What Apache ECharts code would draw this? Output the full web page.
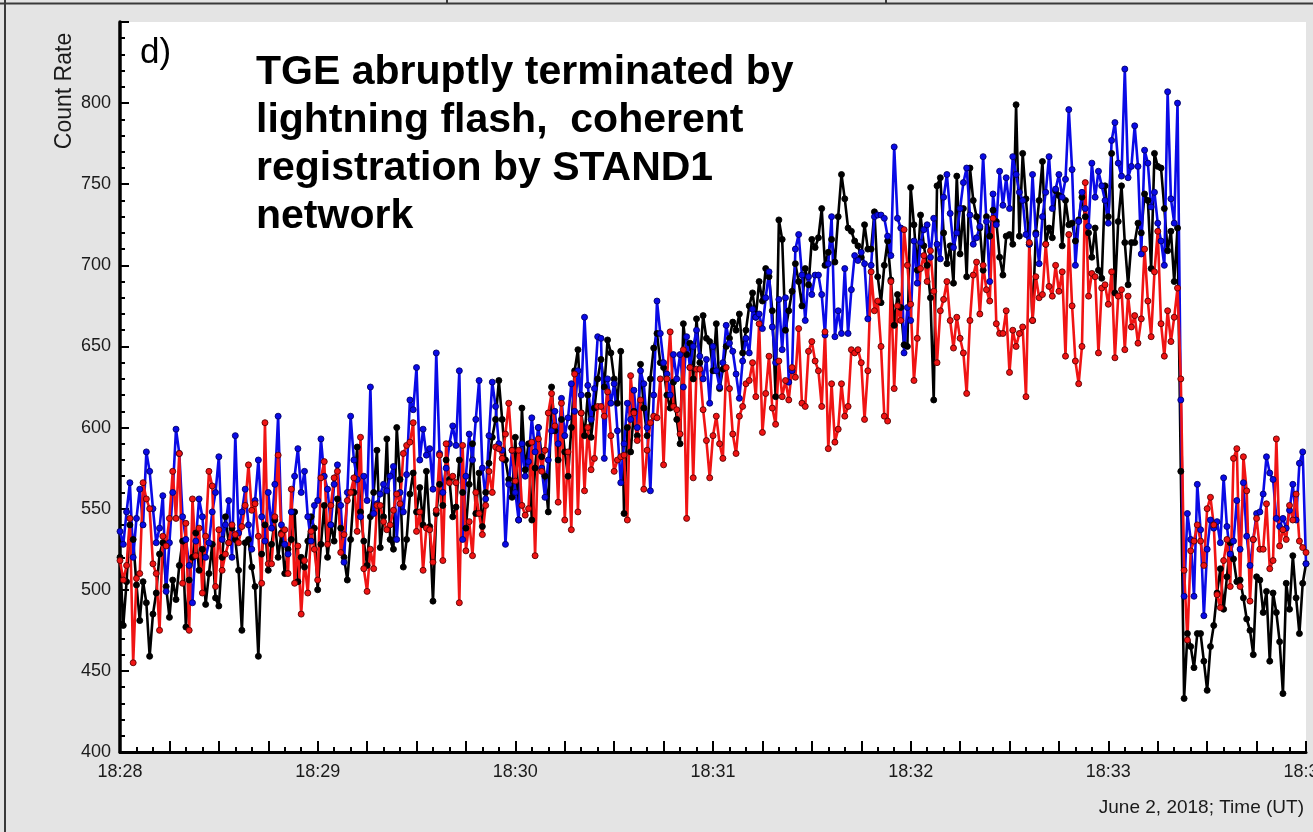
<!DOCTYPE html>
<html>
<head>
<meta charset="utf-8">
<script src="https://cdn.jsdelivr.net/npm/echarts@6.0.0/dist/echarts.min.js"></script>
<style>
  html, body { margin: 0; padding: 0; background: #e4e4e4; }
  #chart { width: 1313px; height: 832px; }
</style>
</head>
<body>
<div id="chart"></div>
<script>
// One-second count rates of three detectors, 18:28:00 - 18:34:00 UT, June 2, 2018
const startMinute = 28;          // 18:28
const axisSeconds = [0, 360];    // time axis span in seconds

const blackRate = [
  520, 478, 505, 540, 531, 503, 481, 505, 492, 459,
  485, 498, 522, 529, 502, 483, 506, 494, 515, 530,
  477, 506, 520, 535, 512, 525, 491, 510, 528, 495,
  490, 520, 545, 529, 538, 531, 512, 475, 529, 531,
  514, 502, 459, 522, 540, 512, 528, 543, 520, 535,
  510, 525, 531, 548, 505, 520, 514, 530, 545, 538,
  500, 528, 552, 520, 540, 530, 556, 538, 520, 506,
  531, 560, 588, 548, 530, 515, 545, 560, 586, 526,
  545, 593, 531, 525, 600, 568, 514, 531, 559, 572,
  548, 563, 540, 573, 539, 493, 547, 565, 552, 580,
  568, 545, 551, 580, 560, 538, 565, 590, 547, 572,
  539, 560, 578, 594, 605, 629, 605, 580, 568, 557,
  594, 543, 612, 574, 590, 543, 575, 600, 582, 570,
  548, 625, 598, 580, 605, 585, 570, 600, 635, 648,
  609, 595, 620, 594, 612, 630, 642, 625, 654, 646,
  630, 615, 647, 547, 600, 585, 610, 595, 639, 612,
  595, 630, 649, 658, 640, 637, 620, 612, 628, 605,
  590, 664, 645, 652, 630, 667, 640, 669, 655, 653,
  635, 664, 624, 636, 650, 655, 665, 660, 670, 646,
  660, 675, 683, 668, 690, 678, 698, 693, 672, 619,
  728, 716, 660, 672, 684, 701, 690, 675, 698, 688,
  716, 711, 717, 735, 700, 708, 716, 702, 730, 756,
  741, 723, 721, 715, 712, 705, 725, 710, 710, 733,
  693, 677, 700, 715, 691, 663, 682, 674, 651, 650,
  748, 725, 697, 731, 712, 700, 680, 617, 749, 754,
  720, 701, 712, 689, 755, 707, 735, 693, 760, 740,
  730, 723, 697, 730, 718, 734, 727, 705, 694, 718,
  719, 713, 799, 718, 769, 741, 713, 666, 720, 740,
  764, 713, 723, 717, 746, 743, 712, 740, 725, 726,
  715, 728, 742, 730, 720, 705, 723, 697, 692, 749,
  730, 769, 683, 727, 749, 714, 688, 714, 714, 726,
  720, 744, 740, 698, 769, 761, 760, 735, 709, 721,
  690, 723, 573, 433, 473, 465, 452, 473, 473, 456,
  438, 465, 478, 498, 513, 488, 508, 529, 519, 505,
  506, 495, 482, 475, 460, 508, 506, 486, 499, 456,
  498, 486, 468, 436, 504, 488, 521, 495, 473, 504, 516
];

const blueRate = [
  536, 528, 548, 566, 520, 544, 562, 540, 585, 573,
  550, 529, 538, 558, 499, 529, 560, 599, 584, 545,
  531, 515, 492, 530, 556, 545, 520, 529, 548, 560,
  582, 531, 540, 555, 520, 595, 535, 548, 562, 540,
  525, 555, 580, 545, 530, 560, 538, 565, 607, 540,
  528, 522, 548, 570, 587, 560, 573, 545, 530, 552,
  555, 593, 570, 562, 540, 565, 577, 552, 517, 560,
  607, 580, 568, 545, 570, 555, 625, 547, 553, 559,
  565, 561, 570, 576, 531, 560, 548, 571, 617, 611,
  637, 580, 599, 583, 587, 562, 646, 584, 560, 575,
  590, 601, 589, 635, 531, 570, 596, 580, 605, 629,
  575, 556, 595, 628, 613, 590, 586, 528, 565, 586,
  560, 543, 590, 570, 579, 606, 585, 600, 575, 557,
  580, 598, 610, 590, 618, 595, 606, 627, 610, 635,
  620, 668, 626, 605, 624, 656, 655, 581, 630, 615,
  627, 598, 566, 590, 615, 605, 623, 600, 635, 627,
  600, 561, 620, 678, 658, 640, 633, 620, 645, 630,
  645, 625, 656, 637, 650, 660, 644, 630, 642, 615,
  650, 635, 625, 640, 663, 652, 647, 633, 618, 641,
  655, 646, 673, 668, 670, 661, 680, 696, 662, 640,
  679, 648, 680, 628, 635, 710, 719, 694, 666, 693,
  682, 694, 694, 682, 657, 701, 730, 656, 672, 658,
  698, 658, 685, 706, 703, 708, 701, 667, 700, 730,
  731, 731, 729, 718, 706, 773, 729, 723, 646, 674,
  666, 715, 689, 714, 722, 725, 705, 729, 713, 704,
  742, 756, 732, 711, 720, 735, 751, 760, 731, 713,
  717, 724, 767, 727, 690, 744, 725, 758, 737, 754,
  735, 767, 756, 745, 740, 719, 713, 756, 719, 701,
  730, 745, 767, 735, 747, 756, 742, 753, 796, 759,
  700, 727, 745, 735, 724, 763, 742, 758, 749, 740,
  726, 777, 788, 763, 755, 821, 754, 761, 786, 761,
  707, 771, 763, 736, 745, 726, 715, 700, 807, 741,
  726, 800, 617, 496, 547, 531, 496, 565, 537, 484,
  525, 543, 538, 542, 529, 569, 539, 522, 530, 555,
  525, 566, 533, 515, 531, 547, 548, 559, 582, 572,
  568, 544, 539, 544, 538, 549, 565, 543, 578, 585, 516
];

const redRate = [
  518, 506, 515, 544, 455, 507, 510, 566, 556, 550,
  516, 510, 475, 533, 527, 544, 573, 544, 584, 504,
  541, 475, 556, 521, 538, 498, 533, 573, 564, 502,
  537, 512, 522, 529, 540, 534, 529, 539, 552, 577,
  549, 553, 533, 504, 603, 516, 516, 545, 583, 534,
  537, 510, 562, 504, 527, 485, 518, 498, 536, 525,
  506, 569, 579, 528, 552, 569, 573, 523, 534, 555,
  560, 569, 536, 594, 513, 499, 525, 513, 552, 552,
  542, 537, 540, 549, 559, 553, 584, 589, 591, 603,
  536, 548, 512, 538, 537, 517, 549, 583, 518, 590,
  566, 570, 566, 492, 589, 524, 542, 521, 560, 547,
  534, 552, 573, 560, 588, 587, 581, 596, 615, 586,
  567, 586, 552, 546, 550, 591, 521, 593, 573, 586,
  609, 621, 601, 554, 615, 543, 585, 537, 633, 548,
  609, 561, 600, 574, 581, 613, 613, 607, 622, 595,
  573, 580, 582, 583, 543, 632, 609, 592, 617, 562,
  586, 603, 607, 606, 630, 577, 630, 659, 613, 611,
  596, 648, 544, 637, 569, 636, 636, 611, 592, 569,
  595, 607, 590, 581, 637, 624, 596, 584, 607, 613,
  627, 629, 640, 619, 664, 597, 621, 644, 612, 602,
  641, 619, 629, 617, 637, 631, 661, 615, 613, 647,
  653, 641, 635, 613, 659, 587, 627, 591, 599, 627,
  607, 613, 648, 646, 648, 640, 605, 635, 696, 672,
  678, 650, 607, 604, 690, 624, 675, 666, 722, 700,
  676, 629, 655, 698, 706, 690, 709, 684, 640, 672,
  679, 690, 666, 649, 668, 655, 646, 621, 666, 694,
  702, 670, 700, 685, 678, 729, 664, 658, 658, 672,
  634, 660, 650, 658, 662, 619, 714, 666, 693, 680,
  682, 713, 687, 681, 700, 684, 696, 644, 719, 675,
  641, 627, 650, 751, 681, 695, 693, 646, 686, 688,
  676, 696, 643, 681, 685, 648, 681, 662, 669, 652,
  667, 710, 678, 656, 696, 721, 664, 644, 672, 653,
  668, 686, 630, 512, 469, 524, 530, 540, 530, 515,
  550, 557, 540, 497, 489, 518, 531, 502, 581, 587,
  502, 582, 561, 493, 531, 544, 525, 525, 553, 513,
  518, 593, 527, 537, 531, 552, 543, 559, 530, 526, 523
];

const yRange = [400, 850];
const yStep = 50;
const xStep = 15;   // major tick every 15 s, label every minute

const fontFamily = '"Liberation Sans", Arial, Helvetica, sans-serif';

function toPoints(values) {
  return values.map((v, i) => [axisSeconds[0] + i, v]);
}

function rateSeries(name, values, color, edge) {
  return {
    name: name,
    type: 'line',
    data: toPoints(values),
    symbol: 'circle',
    symbolSize: 6,
    showSymbol: true,
    clip: true,
    lineStyle: { color: color, width: 2.6 },
    itemStyle: { color: color, borderColor: edge, borderWidth: 0.9 },
    emphasis: { disabled: true },
    silent: true,
    animation: false
  };
}

const chart = echarts.init(document.getElementById('chart'), null, { renderer: 'canvas' });

chart.setOption({
  backgroundColor: '#e4e4e4',
  animation: false,
  grid: {
    left: 120, right: 7, top: 22, bottom: 80,
    containLabel: false,
    outerBoundsMode: 'none',
    show: true, backgroundColor: '#ffffff', borderWidth: 0
  },
  xAxis: {
    type: 'value',
    min: axisSeconds[0], max: axisSeconds[1], interval: xStep,
    axisLine: { show: true, onZero: false, lineStyle: { color: '#000', width: 3 } },
    axisTick: { show: true, inside: true, length: 11, lineStyle: { color: '#000', width: 2 } },
    minorTick: { show: true, splitNumber: 3, length: 5, lineStyle: { color: '#000', width: 2 } },
    splitLine: { show: false },
    axisLabel: {
      show: true, margin: 11, color: '#1a1a1a', fontSize: 18, fontFamily: fontFamily,
      showMaxLabel: true, showMinLabel: true, hideOverlap: false,
      formatter: function (v) {
        if (v % 60 !== 0) return '';
        return '18:' + (startMinute + v / 60);
      }
    }
  },
  yAxis: {
    type: 'value',
    min: yRange[0], max: yRange[1], interval: yStep,
    axisLine: { show: true, onZero: false, lineStyle: { color: '#000', width: 3.5 } },
    axisTick: { show: true, inside: true, length: 9, lineStyle: { color: '#000', width: 2 } },
    minorTick: { show: true, splitNumber: 5, length: 5, lineStyle: { color: '#000', width: 2 } },
    splitLine: { show: false },
    axisLabel: {
      margin: 9, color: '#1a1a1a', fontSize: 18, fontFamily: fontFamily,
      formatter: function (v) { return v >= yRange[1] ? '' : String(v); }
    }
  },
  series: [
    rateSeries('STAND1 black', blackRate, '#000000', '#000000'),
    rateSeries('STAND1 blue', blueRate, '#0a0ae6', '#00006a'),
    rateSeries('STAND1 red', redRate, '#f01414', '#5a0000')
  ],
  graphic: [
    { type: 'line', silent: true, shape: { x1: 0, y1: 3.5, x2: 1313, y2: 3.5 },
      style: { stroke: '#3a3a3a', lineWidth: 2 } },
    { type: 'line', silent: true, shape: { x1: 447, y1: 0, x2: 447, y2: 4 },
      style: { stroke: '#3a3a3a', lineWidth: 2 } },
    { type: 'line', silent: true, shape: { x1: 886, y1: 0, x2: 886, y2: 4 },
      style: { stroke: '#3a3a3a', lineWidth: 2 } },
    { type: 'line', silent: true, shape: { x1: 5, y1: 0, x2: 5, y2: 832 },
      style: { stroke: '#3a3a3a', lineWidth: 2 } },
    { type: 'text', silent: true, x: 65, y: 91, rotation: Math.PI / 2,
      style: { text: 'Count Rate', fontSize: 23, fontFamily: fontFamily, fill: '#1a1a1a',
               align: 'center', verticalAlign: 'middle' } },
    { type: 'text', silent: true, x: 140, y: 36,
      style: { text: 'd)', fontSize: 35, fontFamily: fontFamily, fill: '#000',
               align: 'left', verticalAlign: 'top' } },
    { type: 'text', silent: true, x: 256, y: 49,
      style: { text: 'TGE abruptly terminated by\nlightning flash,  coherent\nregistration by STAND1\nnetwork',
               fontSize: 41, fontWeight: 'bold', fontFamily: fontFamily, fill: '#000',
               lineHeight: 48, align: 'left', verticalAlign: 'top' } },
    { type: 'text', silent: true, x: 1304, y: 808,
      style: { text: 'June 2, 2018; Time (UT)', fontSize: 19, fontFamily: fontFamily, fill: '#1a1a1a',
               align: 'right', verticalAlign: 'middle' } }
  ]
});
</script>
</body>
</html>
